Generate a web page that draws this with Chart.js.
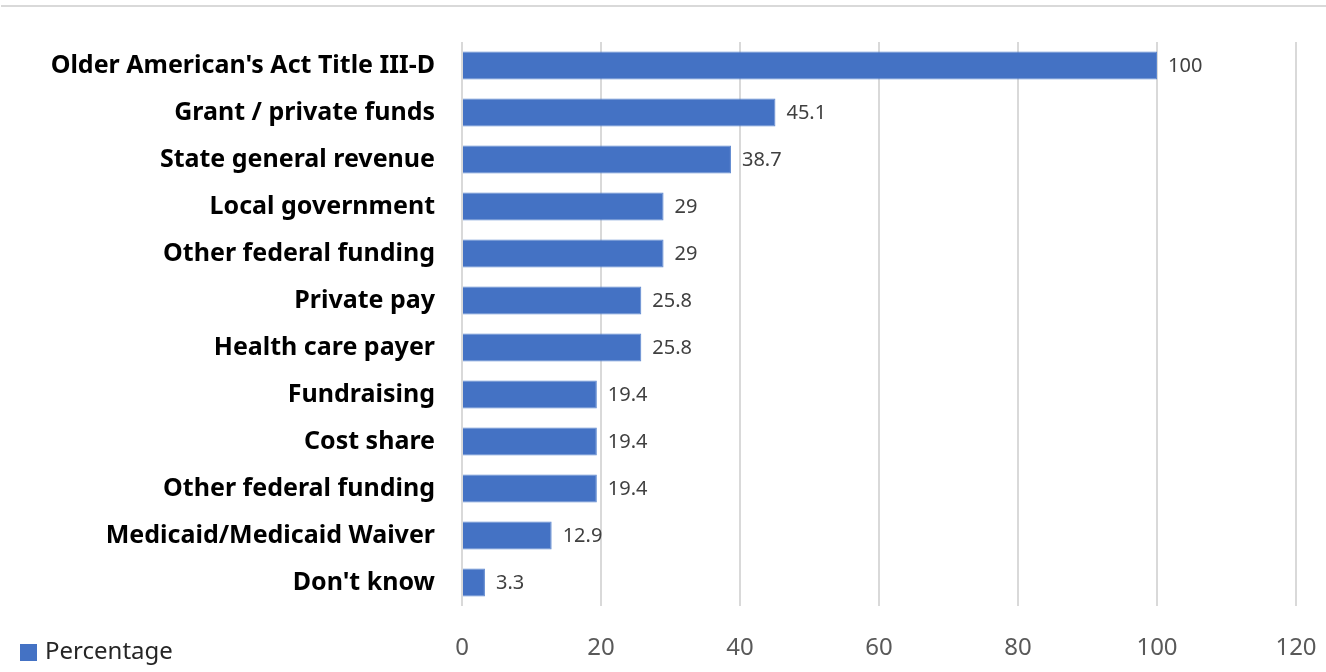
<!DOCTYPE html>
<html>
<head>
<meta charset="utf-8">
<script src="https://cdn.jsdelivr.net/npm/chart.js@4"></script>
<style>
  body { margin: 0; background: #ffffff; }
  #wrap { width: 1326px; height: 672px; position: relative; }
</style>
</head>
<body>
<div id="wrap"><canvas id="Funding__Canvas"></canvas></div>
<script>
const categories = [
  "Older American's Act Title III-D",
  "Grant / private funds",
  "State general revenue",
  "Local government",
  "Other federal funding",
  "Private pay",
  "Health care payer",
  "Fundraising",
  "Cost share",
  "Other federal funding",
  "Medicaid/Medicaid Waiver",
  "Don't know",
];
const percentages = [100, 45.1, 38.7, 29, 29, 25.8, 25.8, 19.4, 19.4, 19.4, 12.9, 3.3];
const xTicks = [0, 20, 40, 60, 80, 100, 120];

const barBlue = "#4472C4";

// value labels to the right of each bar
const valueLabels = {
  id: "valueLabels",
  afterDatasetsDraw(chart) {
    const ctx = chart.ctx;
    const meta = chart.getDatasetMeta(0);
    ctx.save();
    ctx.font = "20px 'Noto Sans'";
    ctx.fillStyle = "#404040";
    ctx.textAlign = "left";
    ctx.textBaseline = "middle";
    meta.data.forEach((bar, i) => {
      ctx.fillText(String(chart.data.datasets[0].data[i]), bar.x + 11, bar.y + 1);
    });
    ctx.restore();
  },
};

// top rule and legend in the lower left corner
const frameAndLegend = {
  id: "frameAndLegend",
  beforeDraw(chart) {
    const ctx = chart.ctx;
    ctx.save();
    ctx.fillStyle = "#ffffff";
    ctx.fillRect(0, 0, chart.width, chart.height);
    ctx.fillStyle = "#d9d9d9";
    ctx.fillRect(1, 5, chart.width - 1, 2);
    ctx.restore();
  },
  afterDraw(chart) {
    const ctx = chart.ctx;
    const ds = chart.data.datasets[0];
    ctx.save();
    ctx.fillStyle = ds.backgroundColor;
    ctx.fillRect(20, 644, 17, 17);
    ctx.font = "24px 'Noto Sans'";
    ctx.fillStyle = "#262626";
    ctx.textBaseline = "middle";
    ctx.fillText(ds.label, 45, 652);
    ctx.restore();
  },
};

const barChart = new Chart(document.getElementById("Funding__Canvas"), {
  type: "bar",
  data: {
    labels: categories,
    datasets: [
      {
        label: "Percentage",
        data: percentages,
        backgroundColor: barBlue,
        borderColor: "#5b86cf",
        borderWidth: 1,
        barPercentage: 0.6,
        categoryPercentage: 1,
      },
    ],
  },
  options: {
    indexAxis: "y",
    responsive: true,
    maintainAspectRatio: false,
    animation: false,
    layout: { padding: { top: 41, right: 30, bottom: 0, left: 0 } },
    plugins: {
      legend: { display: false },
      tooltip: { enabled: false },
    },
    scales: {
      x: {
        min: 0,
        max: 120,
        afterBuildTicks: (scale) => {
          scale.ticks = xTicks.map((v) => ({ value: v }));
        },
        afterFit: (scale) => {
          scale.height = 66;
          scale.paddingLeft = 0;
          scale.paddingRight = 0;
        },
        grid: { color: "#d9d9d9", lineWidth: 2, drawTicks: false },
        border: { display: false },
        ticks: {
          padding: 28,
          color: "#595959",
          font: { family: "'Noto Sans'", size: 24 },
        },
      },
      y: {
        afterFit: (scale) => {
          scale.width = 462;
        },
        grid: { display: false, drawTicks: false },
        border: { display: false },
        ticks: {
          padding: 27,
          color: "#000000",
          font: { family: "'Noto Sans'", size: 25, weight: "bold" },
        },
      },
    },
  },
  plugins: [valueLabels, frameAndLegend],
});
</script>
</body>
</html>
